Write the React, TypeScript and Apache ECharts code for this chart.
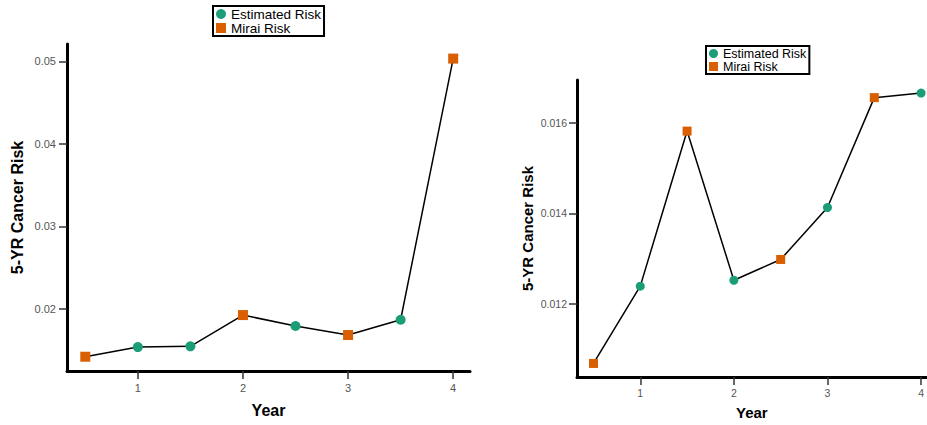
import React, { useEffect, useRef } from 'react';
import * as echarts from 'echarts';

const years = [0.5, 1, 1.5, 2, 2.5, 3, 3.5, 4];
const leftRisk = [0.01419, 0.01536, 0.01545, 0.01924, 0.01791, 0.01682, 0.01867, 0.05033];
const leftSource = ['Mirai Risk', 'Estimated Risk', 'Estimated Risk', 'Mirai Risk', 'Estimated Risk', 'Mirai Risk', 'Estimated Risk', 'Mirai Risk'];
const rightRisk = [0.01068, 0.01239, 0.01582, 0.01252, 0.01298, 0.01413, 0.01656, 0.01666];
const rightSource = ['Mirai Risk', 'Estimated Risk', 'Mirai Risk', 'Estimated Risk', 'Mirai Risk', 'Estimated Risk', 'Mirai Risk', 'Estimated Risk'];
const xTicks = [1, 2, 3, 4];
const leftYTicks = [0.02, 0.03, 0.04, 0.05];
const rightYTicks = [0.012, 0.014, 0.016];
const seriesNames = ['Estimated Risk', 'Mirai Risk'];
const xTitle = 'Year';
const yTitle = '5-YR Cancer Risk';

const FONT = '"Liberation Sans", Arial, sans-serif';
const GREEN = '#1b9e77';
const ORANGE = '#d95f02';
const LABEL = '#555555';
const colorOf: Record<string, string> = { 'Estimated Risk': GREEN, 'Mirai Risk': ORANGE };
const symbolOf: Record<string, string> = { 'Estimated Risk': 'circle', 'Mirai Risk': 'rect' };

function makeAxes(idx: number, cfg: any) {
  const xAxis = {
    type: 'value',
    gridIndex: idx,
    min: cfg.xMin,
    max: cfg.xMax,
    name: xTitle,
    nameLocation: 'middle',
    nameGap: cfg.xNameGap,
    nameTextStyle: { fontFamily: FONT, fontWeight: 'bold', fontSize: cfg.titleSize, color: '#000' },
    axisLine: { show: true, onZero: false, lineStyle: { color: '#000', width: 3 } },
    axisTick: { show: true, length: 8, customValues: xTicks, lineStyle: { color: '#333', width: 1.5 } },
    axisLabel: { show: true, customValues: xTicks, margin: cfg.xLabelMargin, fontFamily: FONT, fontSize: cfg.tickSize, color: LABEL, formatter: (v: number) => String(v) },
    splitLine: { show: false },
  };
  const yAxis = {
    type: 'value',
    gridIndex: idx,
    min: cfg.yMin,
    max: cfg.yMax,
    name: yTitle,
    nameLocation: 'middle',
    nameGap: cfg.yNameGap,
    nameTextStyle: { fontFamily: FONT, fontWeight: 'bold', fontSize: cfg.titleSize, color: '#000' },
    axisLine: { show: true, onZero: false, lineStyle: { color: '#000', width: 3 } },
    axisTick: { show: true, length: 8, customValues: cfg.yTicks, lineStyle: { color: '#333', width: 1.5 } },
    axisLabel: { show: true, customValues: cfg.yTicks, margin: cfg.yLabelMargin, fontFamily: FONT, fontSize: cfg.tickSize, color: LABEL, formatter: (v: number) => v.toFixed(cfg.decimals) },
    splitLine: { show: false },
  };
  return { xAxis, yAxis };
}

function makeSeries(idx: number, risk: number[], source: string[], symSize: number) {
  const out: any[] = [
    {
      type: 'line',
      xAxisIndex: idx,
      yAxisIndex: idx,
      data: years.map((y, i) => [y, risk[i]]),
      showSymbol: false,
      symbol: 'none',
      lineStyle: { color: '#000', width: 1.5 },
      silent: true,
      z: 2,
    },
  ];
  seriesNames.forEach((name) => {
    out.push({
      type: 'scatter',
      name,
      xAxisIndex: idx,
      yAxisIndex: idx,
      symbol: symbolOf[name],
      symbolSize: symSize,
      itemStyle: { color: colorOf[name], opacity: 1 },
      data: years.map((y, i) => [y, risk[i]]).filter((_, i) => source[i] === name),
      z: 3,
    });
  });
  return out;
}

function makeLegend(left: number, top: number, fontSize: number, lineHeight: number, icon: number) {
  return {
    orient: 'vertical',
    left,
    top,
    itemGap: 0,
    itemWidth: icon,
    itemHeight: icon,
    itemTextGap: 2,
    padding: [1, 3, 1, 3],
    borderColor: '#000',
    borderWidth: 2,
    backgroundColor: '#fff',
    textStyle: { fontFamily: FONT, fontSize, color: '#000', lineHeight },
    data: [
      { name: seriesNames[0], icon: 'circle' },
      { name: seriesNames[1], icon: 'rect' },
    ],
  };
}

export default function App() {
  const ref = useRef<HTMLDivElement>(null);
  useEffect(() => {
    if (!ref.current) return;
    const chart = echarts.init(ref.current, null, { renderer: 'svg' });
    const a = makeAxes(0, {
      xMin: 0.326, xMax: 4.16, yMin: 0.01246, yMax: 0.0521, yTicks: leftYTicks, decimals: 2,
      xNameGap: 31, yNameGap: 42, titleSize: 16, tickSize: 11, xLabelMargin: 11, yLabelMargin: 11,
    });
    const b = makeAxes(1, {
      xMin: 0.324, xMax: 4.06, yMin: 0.01038, yMax: 0.01695, yTicks: rightYTicks, decimals: 3,
      xNameGap: 28, yNameGap: 42, titleSize: 15, tickSize: 10.5, xLabelMargin: 10, yLabelMargin: 10,
    });
    chart.setOption({
      animation: false,
      backgroundColor: '#fff',
      grid: [
        { left: 67, top: 44, width: 403, height: 327 },
        { left: 577, top: 80, width: 350, height: 297 },
      ],
      xAxis: [a.xAxis, b.xAxis],
      yAxis: [a.yAxis, b.yAxis],
      legend: [makeLegend(213, 6, 13.5, 14, 10), makeLegend(706, 46, 12.5, 13, 9)],
      series: [...makeSeries(0, leftRisk, leftSource, 10), ...makeSeries(1, rightRisk, rightSource, 9)],
    });
    return () => chart.dispose();
  }, []);
  return <div ref={ref} style={{ position: 'fixed', left: 0, top: 0, width: 927, height: 425 }} />;
}
